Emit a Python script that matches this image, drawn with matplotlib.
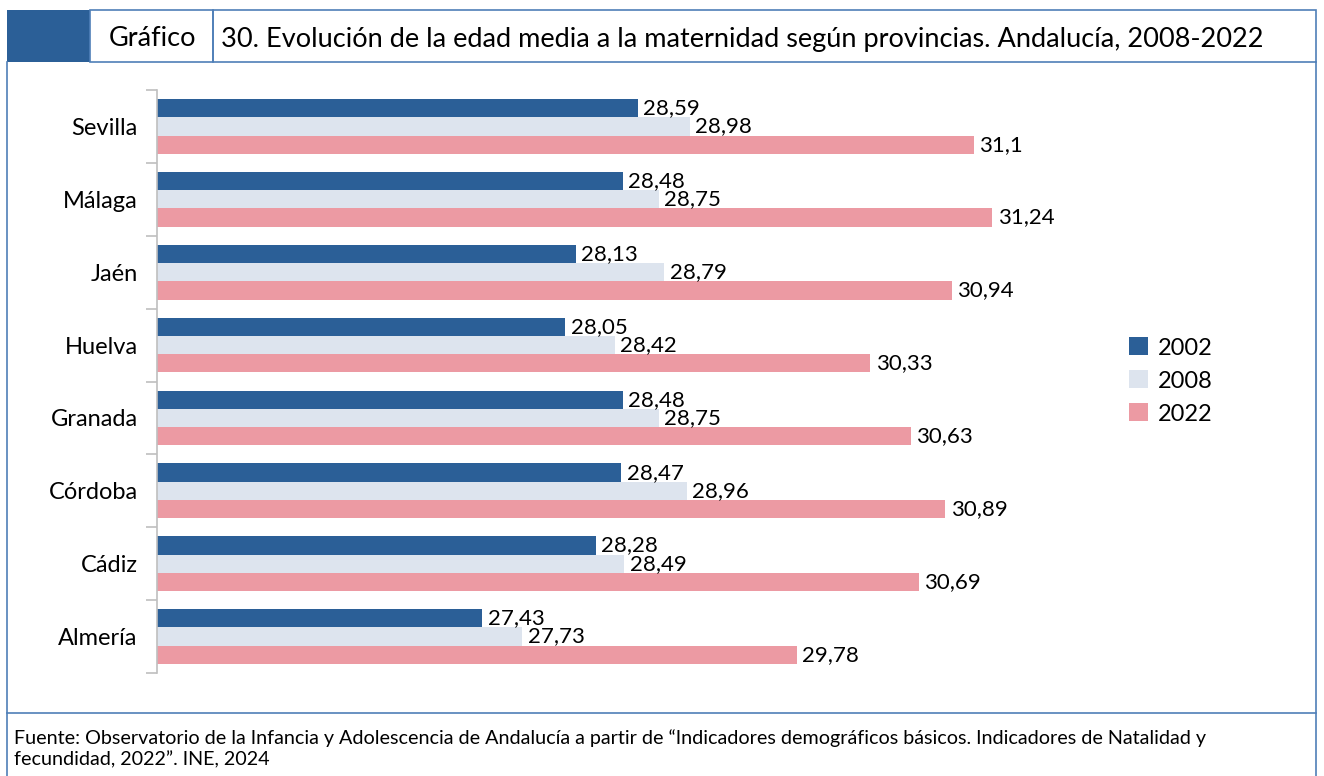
import matplotlib
matplotlib.use("Agg")
import matplotlib.pyplot as plt
from matplotlib.patches import Rectangle
from matplotlib.lines import Line2D
import numpy as np

plt.rcParams["font.family"] = ["Lato", "DejaVu Sans"]

provincias = ["Almería", "Cádiz", "Córdoba", "Granada", "Huelva", "Jaén", "Málaga", "Sevilla"]
v2002 = [27.43, 28.28, 28.47, 28.48, 28.05, 28.13, 28.48, 28.59]
v2008 = [27.73, 28.49, 28.96, 28.75, 28.42, 28.79, 28.75, 28.98]
v2022 = [29.78, 30.69, 30.89, 30.63, 30.33, 30.94, 31.24, 31.1]
series_labels = ["2002", "2008", "2022"]
colors = ["#2b5f97", "#dde4ee", "#ec9aa3"]

FRAME = "#4f7fb8"
W, H = 1324, 776

fig = plt.figure(figsize=(W / 100, H / 100), dpi=100)


def fx(px):
    return px / W


def fy(py):
    return 1 - py / H


# marco y cabecera
fig.add_artist(Rectangle((fx(7), fy(62)), fx(83), 52 / H, transform=fig.transFigure,
                         facecolor="#2b5f97", edgecolor="none"))
for x0, x1 in [(90, 213), (213, 1316)]:
    fig.add_artist(Rectangle((fx(x0), fy(62)), fx(x1 - x0), 52 / H, transform=fig.transFigure,
                             facecolor="none", edgecolor=FRAME, lw=1.2))
fig.add_artist(Line2D([fx(7), fx(7)], [fy(62), fy(776)], transform=fig.transFigure, color=FRAME, lw=1.2))
fig.add_artist(Line2D([fx(1316), fx(1316)], [fy(62), fy(776)], transform=fig.transFigure, color=FRAME, lw=1.2))
fig.add_artist(Line2D([fx(7), fx(1316)], [fy(713), fy(713)], transform=fig.transFigure, color=FRAME, lw=1.2))

fig.text(fx(153), fy(39), "Gráfico", ha="center", va="center", fontsize=19.5)
fig.text(fx(221), fy(39), "30. Evolución de la edad media a la maternidad según provincias. Andalucía, 2008-2022",
         ha="left", va="center", fontsize=19.5)
fig.text(fx(14), fy(749),
         "Fuente: Observatorio de la Infancia y Adolescencia de Andalucía a partir de “Indicadores demográficos básicos. Indicadores de Natalidad y\nfecundidad, 2022”. INE, 2024",
         ha="left", va="center", fontsize=14.2, linespacing=1.25)

ax = fig.add_axes([fx(157), fy(673), fx(1094 - 157), (673 - 90) / H])

y = np.arange(len(provincias))
h = 0.25
for i, (vals, c, lab) in enumerate(zip([v2002, v2008, v2022], colors, series_labels)):
    pos = y + (1 - i) * h
    ax.barh(pos, vals, height=h, left=0, color=c, label=lab)
    for p, v in zip(pos, vals):
        ax.text(v + 0.04, p, f"{v:g}".replace(".", ","), va="center", ha="left", fontsize=16)

ax.set_xlim(25, 32)
ax.set_ylim(-0.5, len(provincias) - 0.5)
ax.set_xticks([])
ax.set_yticks(y)
ax.set_yticklabels(provincias, fontsize=17)
ax.set_yticks(np.arange(-0.5, len(provincias), 1), minor=True)
ax.tick_params(axis="y", which="major", length=0, pad=14)
ax.tick_params(axis="y", which="minor", length=8, color="#bfbfbf", width=1.2)
for s in ["top", "right", "bottom"]:
    ax.spines[s].set_visible(False)
ax.spines["left"].set_color("#bfbfbf")
ax.spines["left"].set_linewidth(1.2)

leg = fig.legend(loc="center left", bbox_to_anchor=(fx(1108), fy(381)), frameon=False,
                 fontsize=17, handlelength=0.8, handleheight=0.8, handletextpad=0.4, labelspacing=0.5)

fig.savefig("out.png", dpi=100)
